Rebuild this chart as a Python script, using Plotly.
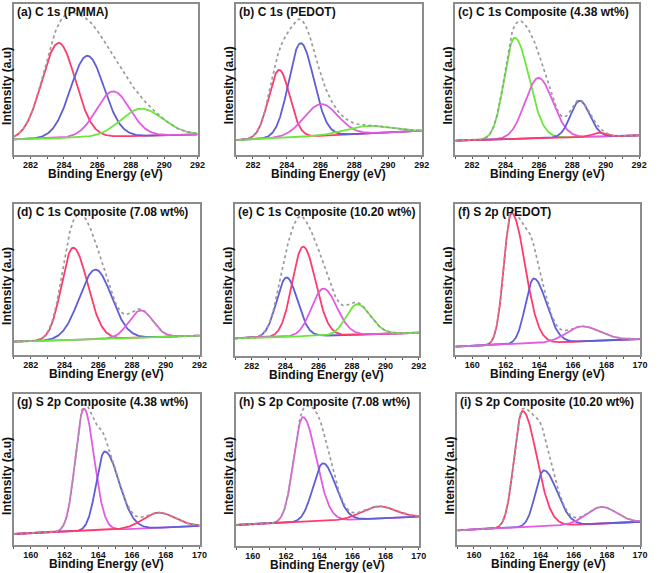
import numpy as np
import plotly.graph_objects as go

# ---------------- data ----------------
titles = ["(a) C 1s (PMMA)", "(b) C 1s (PEDOT)", "(c) C 1s Composite (4.38 wt%)",
          "(d) C 1s Composite (7.08 wt%)", "(e) C 1s Composite (10.20 wt%)", "(f) S 2p (PEDOT)",
          "(g) S 2p Composite (4.38 wt%)", "(h) S 2p Composite (7.08 wt%)", "(i) S 2p Composite (10.20 wt%)"]

c1s_range = [281, 292]
s2p_range = [159, 170]
c1s_ticks = [282, 284, 286, 288, 290, 292]
s2p_ticks = [160, 162, 164, 166, 168, 170]

# peak centre (eV), peak height above background (relative), left / right width (eV)
a_center = [283.68, 285.40, 286.94, 288.60]
a_height = [0.63, 0.54, 0.30, 0.18]
a_wl = [1.00, 1.00, 1.00, 1.20]
a_wr = [1.00, 1.00, 1.00, 1.30]
a_base = [0.104, 0.137]

b_center = [283.55, 284.82, 286.03, 288.80]
b_height = [0.45, 0.62, 0.21, 0.05]
b_wl = [0.62, 0.70, 1.00, 1.30]
b_wr = [0.62, 0.78, 1.00, 1.30]
b_base = [0.099, 0.161]

c_center = [284.55, 285.97, 288.44, 289.60]
c_height = [0.67, 0.40, 0.24, 0.025]
c_wl = [0.62, 0.80, 0.55, 0.40]
c_wr = [0.85, 0.85, 0.60, 0.40]
c_base = [0.095, 0.130]

d_center = [284.51, 285.83, 288.52, 288.00]
d_height = [0.61, 0.46, 0.18, 0.0]
d_wl = [0.68, 0.95, 0.70, 1.00]
d_wr = [0.85, 0.95, 0.70, 1.00]
d_base = [0.088, 0.128]

e_center = [284.08, 285.07, 286.28, 288.30]
e_height = [0.39, 0.59, 0.31, 0.20]
e_wl = [0.60, 0.65, 0.70, 0.65]
e_wr = [0.65, 0.75, 0.80, 0.80]
e_base = [0.116, 0.153]

f_center = [162.34, 163.67, 166.50]
f_height = [0.87, 0.43, 0.10]
f_wl = [0.45, 0.50, 0.90]
f_wr = [0.80, 0.75, 1.10]
f_base = [0.055, 0.106]

g_center = [163.15, 164.38, 167.54]
g_height = [0.81, 0.52, 0.10]
g_wl = [0.50, 0.50, 0.90]
g_wr = [0.60, 0.85, 1.00]
g_base = [0.073, 0.126]

h_center = [163.02, 164.23, 167.57]
h_height = [0.69, 0.38, 0.08]
h_wl = [0.55, 0.60, 1.00]
h_wr = [0.80, 0.75, 1.00]
h_base = [0.138, 0.193]

i_center = [162.92, 164.20, 167.67]
i_height = [0.77, 0.37, 0.11]
i_wl = [0.50, 0.50, 0.90]
i_wr = [0.85, 0.80, 0.90]
i_base = [0.097, 0.154]

# ---------------- styles ----------------
RED = "#ff3a6c"
BLUE = "#5e5ed8"
PINK = "#e25ce2"
GREEN = "#6ae83c"
ENV = "#9a9a9a"

a_colors = [RED, BLUE, PINK, GREEN]
b_colors = [RED, BLUE, PINK, GREEN]
c_colors = [GREEN, PINK, BLUE, RED]
d_colors = [RED, BLUE, PINK, GREEN]
e_colors = [BLUE, RED, PINK, GREEN]
f_colors = [RED, BLUE, PINK]
g_colors = [PINK, BLUE, RED]
h_colors = [PINK, BLUE, RED]
i_colors = [RED, BLUE, PINK]

panels = [
    (a_center, a_height, a_wl, a_wr, a_base, a_colors, c1s_range, c1s_ticks),
    (b_center, b_height, b_wl, b_wr, b_base, b_colors, c1s_range, c1s_ticks),
    (c_center, c_height, c_wl, c_wr, c_base, c_colors, c1s_range, c1s_ticks),
    (d_center, d_height, d_wl, d_wr, d_base, d_colors, c1s_range, c1s_ticks),
    (e_center, e_height, e_wl, e_wr, e_base, e_colors, c1s_range, c1s_ticks),
    (f_center, f_height, f_wl, f_wr, f_base, f_colors, s2p_range, s2p_ticks),
    (g_center, g_height, g_wl, g_wr, g_base, g_colors, s2p_range, s2p_ticks),
    (h_center, h_height, h_wl, h_wr, h_base, h_colors, s2p_range, s2p_ticks),
    (i_center, i_height, i_wl, i_wr, i_base, i_colors, s2p_range, s2p_ticks),
]

# panel frames in pixels: left, right, top, bottom
boxes = [(14, 200, 4, 155), (239, 427, 4, 155), (461, 647, 4, 155),
         (14, 202, 204, 355), (238, 424, 204, 356), (461, 648, 204, 355),
         (14, 202, 394, 545), (239, 424, 394, 546), (463, 648, 394, 545)]

W, H = 658, 573
FONT = "Liberation Sans, Arial, sans-serif"


def peak(x, c, h, wl, wr):
    w = np.where(x < c, wl, wr)
    return h * np.exp(-0.5 * ((x - c) / w) ** 2)


fig = go.Figure()
layout = {}
annotations = []
for k, (cen, hei, wl, wr, base, cols, xr, ticks) in enumerate(panels):
    n = k + 1
    xs = np.linspace(xr[0], xr[1], 400)
    bg = base[0] + (base[1] - base[0]) * (xs - xr[0]) / (xr[1] - xr[0])
    comps = [peak(xs, c, h, l, r) for c, h, l, r in zip(cen, hei, wl, wr)]
    xa = "x" if n == 1 else f"x{n}"
    ya = "y" if n == 1 else f"y{n}"
    for comp, col in zip(comps, cols):
        fig.add_trace(go.Scatter(x=xs, y=bg + comp, mode="lines", xaxis=xa, yaxis=ya,
                                 line=dict(color=col, width=1.8), showlegend=False,
                                 hoverinfo="skip"))
    env = bg + np.sum(comps, axis=0)
    fig.add_trace(go.Scatter(x=xs, y=env, mode="lines", xaxis=xa, yaxis=ya,
                             line=dict(color=ENV, width=1.7, dash="dot"), showlegend=False,
                             hoverinfo="skip"))
    L, R, T, B = boxes[k]
    layout[f"xaxis{n}"] = dict(
        domain=[L / W, R / W], anchor=ya, range=xr, tickvals=ticks,
        showline=True, mirror=True, linecolor="#8c8c8c", linewidth=1.5,
        ticks="outside", ticklen=2, tickwidth=1, tickcolor="#555",
        ticklabelstandoff=-2,
        minor=dict(dtick=1, ticks="outside", ticklen=2, tickcolor="#555"),
        tickfont=dict(family=FONT, size=9, color="#111", weight="bold"),
        showgrid=False, zeroline=False, fixedrange=True)
    layout[f"yaxis{n}"] = dict(
        domain=[1 - B / H, 1 - T / H], anchor=xa, range=[0, 1],
        showline=True, mirror=True, linecolor="#8c8c8c", linewidth=1.5,
        showticklabels=False, ticks="", showgrid=False, zeroline=False, fixedrange=True)
    annotations.append(dict(text=titles[k], x=(L + 1) / W, y=1 - (T + 8) / H,
                            xref="paper", yref="paper", xanchor="left", yanchor="middle",
                            showarrow=False,
                            font=dict(family=FONT, size=12, color="#111", weight="bold")))
    annotations.append(dict(text="Binding Energy (eV)", x=(L + R) / 2 / W, y=1 - (B + 19) / H,
                            xref="paper", yref="paper", xanchor="center", yanchor="middle",
                            showarrow=False,
                            font=dict(family=FONT, size=12, color="#111", weight="bold")))
    annotations.append(dict(text="Intensity (a.u)", x=(L - 7.5) / W, y=1 - ((T + B) / 2 + 6) / H,
                            xref="paper", yref="paper", xanchor="center", yanchor="middle",
                            textangle=-90, showarrow=False,
                            font=dict(family=FONT, size=12, color="#111", weight="bold")))

fig.update_layout(width=W, height=H, margin=dict(l=0, r=0, t=0, b=0),
                  paper_bgcolor="white", plot_bgcolor="white",
                  annotations=annotations, **layout)
fig.write_html("out.html", config={"displayModeBar": False},
               post_script="document.body.style.margin='0px';document.body.style.padding='0px';")
